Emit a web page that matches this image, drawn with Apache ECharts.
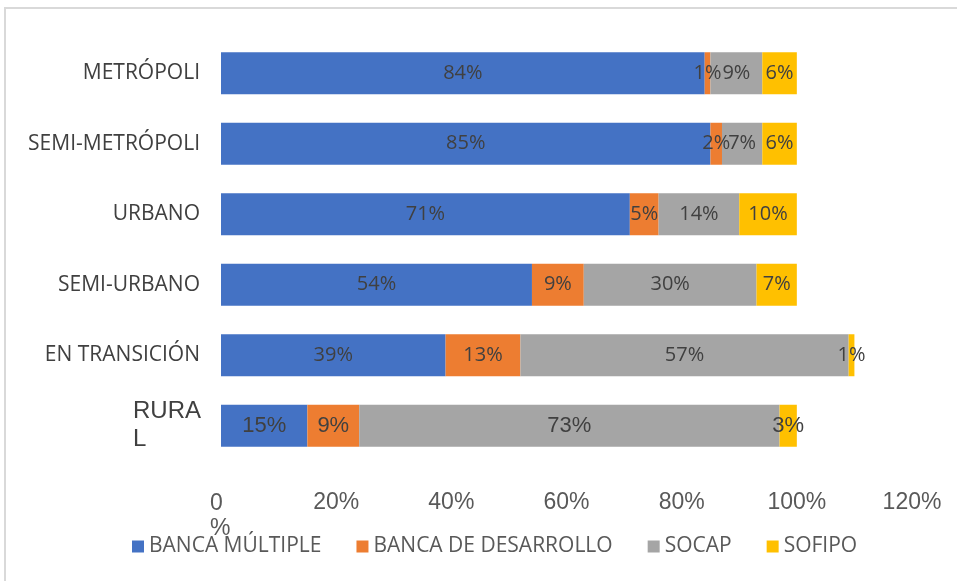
<!DOCTYPE html>
<html>
<head>
<meta charset="utf-8">
<script src="https://cdn.jsdelivr.net/npm/echarts@6/dist/echarts.min.js"></script>
<style>
html,body{margin:0;padding:0;background:#fff;}
#chart{width:957px;height:581px;}
</style>
</head>
<body>
<div id="chart"></div>
<script>
var categories = ['METRÓPOLI', 'SEMI-METRÓPOLI', 'URBANO', 'SEMI-URBANO', 'EN TRANSICIÓN', 'RURAL'];
var seriesNames = ['BANCA MÚLTIPLE', 'BANCA DE DESARROLLO', 'SOCAP', 'SOFIPO'];
var bancaMultiple = [84, 85, 71, 54, 39, 15];
var bancaDesarrollo = [1, 2, 5, 9, 13, 9];
var socap = [9, 7, 14, 30, 57, 73];
var sofipo = [6, 6, 10, 7, 1, 3];
var xTicks = [0, 20, 40, 60, 80, 100, 120];
var colors = ['#4472C4', '#ED7D31', '#A5A5A5', '#FFC000'];

var allValues = [bancaMultiple, bancaDesarrollo, socap, sofipo];
var catFont = '"Open Sans", "Noto Sans", sans-serif';
var numFont = '"Liberation Sans", Arial, sans-serif';

function buildData(vals) {
  return vals.map(function (v, i) {
    var d = { value: v };
    if (categories[i] === 'RURAL') {
      d.label = { fontSize: 22, fontFamily: numFont };
    }
    return d;
  });
}

var series = seriesNames.map(function (name, k) {
  return {
    name: name,
    type: 'bar',
    stack: 'total',
    barWidth: 42,
    itemStyle: { color: colors[k] },
    label: {
      show: true,
      position: 'inside',
      color: '#404040',
      fontSize: 20,
      fontFamily: catFont,
      formatter: '{c}%'
    },
    emphasis: { disabled: true },
    data: buildData(allValues[k])
  };
});

var chart = echarts.init(document.getElementById('chart'), null, { renderer: 'canvas' });
chart.setOption({
  animation: false,
  backgroundColor: '#fff',
  color: colors,
  graphic: [{
    type: 'rect',
    shape: { x: 5, y: 8, width: 1200, height: 1200 },
    style: { fill: 'none', stroke: '#D9D9D9', lineWidth: 2 },
    silent: true,
    z: -1
  }],
  grid: { left: 221, right: 45, top: 38, bottom: 120, containLabel: false },
  xAxis: {
    type: 'value',
    min: xTicks[0],
    max: xTicks[xTicks.length - 1],
    interval: xTicks[1] - xTicks[0],
    axisLine: { show: false },
    axisTick: { show: false },
    splitLine: { show: false },
    axisLabel: {
      margin: 30,
      fontSize: 23,
      fontFamily: numFont,
      color: '#595959',
      formatter: function (v) { return v === 0 ? '{l|0}\n{l|%}' : v + '%'; },
      rich: {
        l: { fontSize: 23, fontFamily: numFont, color: '#595959', width: 22, align: 'left', lineHeight: 25 }
      }
    }
  },
  yAxis: {
    type: 'category',
    inverse: true,
    data: categories,
    axisLine: { show: false },
    axisTick: { show: false },
    axisLabel: {
      margin: 21,
      fontSize: 21,
      fontFamily: catFont,
      color: '#404040',
      formatter: function (v) {
        if (v === 'RURAL') return '{big|RURA}\n{big|L}';
        return v;
      },
      rich: {
        big: { fontSize: 24, fontFamily: numFont, color: '#404040', width: 67, align: 'left', lineHeight: 28 }
      }
    }
  },
  legend: {
    data: seriesNames,
    left: 132,
    top: 536,
    padding: 0,
    itemWidth: 12,
    itemHeight: 12,
    itemGap: 35,
    icon: 'rect',
    textStyle: { fontSize: 21, fontFamily: catFont, color: '#595959' }
  },
  series: series
});
</script>
</body>
</html>
